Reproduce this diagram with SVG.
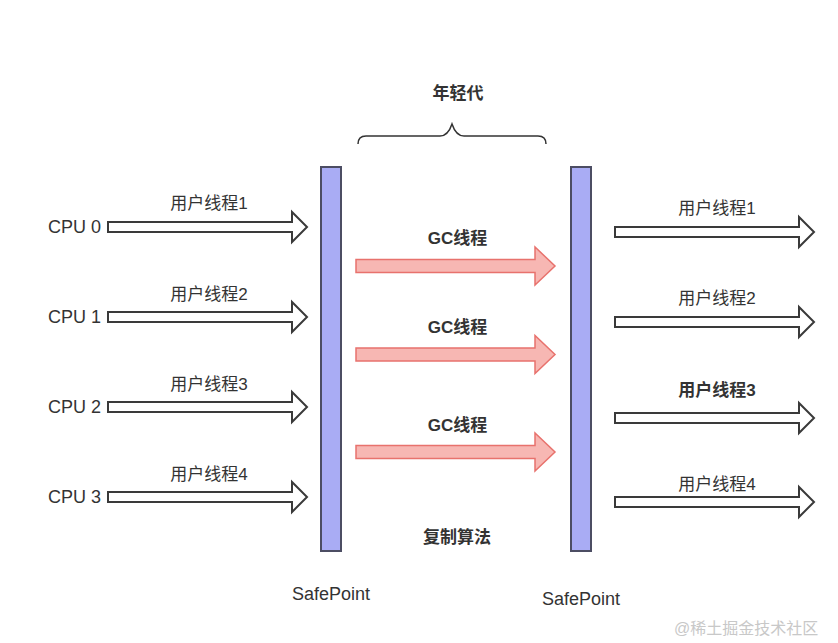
<svg xmlns="http://www.w3.org/2000/svg" width="838" height="643" viewBox="0 0 838 643">
<style>
text{font-family:"Liberation Sans","Noto Sans CJK SC",sans-serif;fill:#333;font-size:17px}
.b{font-weight:bold}
.c{text-anchor:middle}
.e{text-anchor:end;font-size:18px}
.bar{fill:#A9ACF4;stroke:#4C4D63;stroke-width:2}
.ua{fill:#fff;stroke:#3a3a3a;stroke-width:2;stroke-linejoin:miter}
.ga{fill:#F7B7B3;stroke:#E8726D;stroke-width:1.5}
.wm{fill:#c8c8c8;font-size:16px}
</style>
<rect width="838" height="643" fill="#fff"/>
<defs>
<path id="uarrow" d="M0,-5 H184 V-15 L199,0 L184,15 V5 H0 Z"/>
<path id="garrow" d="M0,-6.5 H179 V-19 L199,0 L179,19 V6.5 H0 Z"/>
</defs>
<g id="label-young"><text class="b c" x="458" y="99">年轻代</text></g>
<g id="brace"><path d="M358,144 Q358,136 366,136 H440 Q448,136 452,124 Q456,136 464,136 H538 Q546,136 546,144" fill="none" stroke="#333" stroke-width="1.5"/></g>
<g id="safepoint-left"><rect class="bar" x="321" y="167" width="20" height="384"/><text class="c" x="331" y="600" style="font-size:18px">SafePoint</text></g>
<g id="safepoint-right"><rect class="bar" x="571" y="167" width="20" height="384"/><text class="c" x="581" y="605" style="font-size:18px">SafePoint</text></g>
<g id="cpu0"><text class="e" x="101" y="233">CPU 0</text></g>
<g id="cpu1"><text class="e" x="101" y="323">CPU 1</text></g>
<g id="cpu2"><text class="e" x="101" y="413">CPU 2</text></g>
<g id="cpu3"><text class="e" x="101" y="503">CPU 3</text></g>
<g id="connectors">
<use href="#uarrow" class="ua" x="108" y="227"/>
<use href="#uarrow" class="ua" x="108" y="317"/>
<use href="#uarrow" class="ua" x="108" y="407"/>
<use href="#uarrow" class="ua" x="108" y="497"/>
<use href="#garrow" class="ga" x="356" y="266"/>
<use href="#garrow" class="ga" x="356" y="354.5"/>
<use href="#garrow" class="ga" x="356" y="452"/>
<use href="#uarrow" class="ua" x="615" y="232"/>
<use href="#uarrow" class="ua" x="615" y="322"/>
<use href="#uarrow" class="ua" x="615" y="418"/>
<use href="#uarrow" class="ua" x="615" y="502"/>
</g>
<g id="labels-left">
<text class="c" x="209" y="209">用户线程1</text>
<text class="c" x="209" y="299.5">用户线程2</text>
<text class="c" x="209" y="390">用户线程3</text>
<text class="c" x="209" y="480">用户线程4</text>
</g>
<g id="labels-gc">
<text class="b c" x="457.5" y="244">GC线程</text>
<text class="b c" x="457.5" y="332.5">GC线程</text>
<text class="b c" x="457.5" y="430.5">GC线程</text>
</g>
<g id="labels-right">
<text class="c" x="717" y="214">用户线程1</text>
<text class="c" x="717" y="304">用户线程2</text>
<text class="b c" x="717" y="396">用户线程3</text>
<text class="c" x="717" y="490">用户线程4</text>
</g>
<g id="label-copy"><text class="b c" x="457" y="543">复制算法</text></g>
<g id="watermark"><text class="wm" x="674" y="634">@稀土掘金技术社区</text></g>
</svg>
